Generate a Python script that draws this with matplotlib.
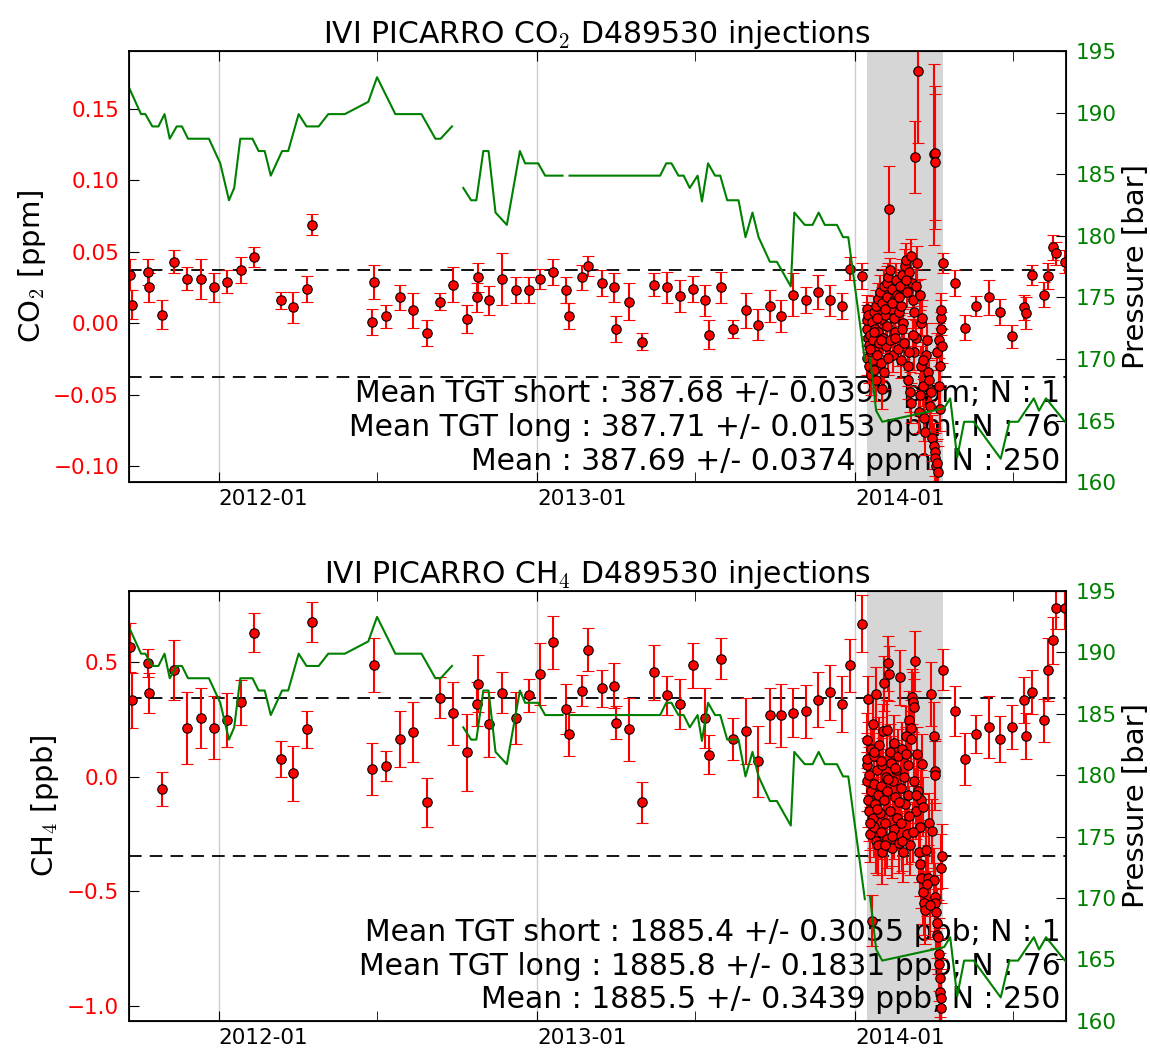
import numpy as np
import pandas as pd
import matplotlib
matplotlib.use('Agg')
import matplotlib.pyplot as plt
import matplotlib.dates as mdates

# TGT long injections (76)
long_dates = ['2011-09-21', '2011-09-24', '2011-10-12', '2011-10-13', '2011-10-28', '2011-11-11',
              '2011-11-26', '2011-12-12', '2011-12-27', '2012-01-11', '2012-01-27', '2012-02-11',
              '2012-03-13', '2012-03-27', '2012-04-12', '2012-04-17', '2012-06-27', '2012-06-25',
              '2012-07-11', '2012-07-27', '2012-08-11', '2012-08-27', '2012-09-11', '2012-09-26',
              '2012-10-12', '2012-10-25', '2012-10-24', '2012-11-07', '2012-11-22', '2012-12-07',
              '2012-12-22', '2013-01-04', '2013-01-19', '2013-02-03', '2013-02-06', '2013-02-21',
              '2013-02-28', '2013-03-16', '2013-03-30', '2013-04-01', '2013-04-16', '2013-05-01',
              '2013-05-15', '2013-05-30', '2013-06-14', '2013-06-29', '2013-07-13', '2013-07-17',
              '2013-07-31', '2013-08-14', '2013-08-28', '2013-09-11', '2013-09-25', '2013-10-08',
              '2013-10-22', '2013-11-05', '2013-11-19', '2013-12-03', '2013-12-17', '2013-12-26',
              '2014-01-09', '2014-04-12', '2014-04-26', '2014-05-07', '2014-05-20', '2014-06-03',
              '2014-06-16', '2014-06-30', '2014-07-14', '2014-07-16', '2014-07-23', '2014-08-06',
              '2014-08-10', '2014-08-16', '2014-08-19', '2014-08-30']
long_co2 = [0.034, 0.013, 0.036, 0.025, 0.006, 0.043, 0.031, 0.031, 0.025, 0.029, 0.037, 0.046,
            0.016, 0.011, 0.024, 0.069, 0.029, 0.001, 0.005, 0.018, 0.009, -0.007, 0.015, 0.027,
            0.003, 0.032, 0.018, 0.016, 0.031, 0.023, 0.023, 0.031, 0.036, 0.023, 0.005, 0.032,
            0.040, 0.028, 0.025, -0.004, 0.015, -0.013, 0.027, 0.025, 0.019, 0.024, 0.016, -0.008,
            0.025, -0.004, 0.009, -0.001, 0.012, 0.005, 0.020, 0.016, 0.022, 0.016, 0.012, 0.038,
            0.033, 0.042, 0.028, -0.003, 0.012, 0.018, 0.008, -0.009, 0.011, 0.007, 0.034, 0.020,
            0.033, 0.053, 0.049, 0.043]
long_co2_err = [0.011, 0.010, 0.009, 0.010, 0.010, 0.008, 0.008, 0.014, 0.010, 0.008, 0.009, 0.007,
                0.006, 0.011, 0.009, 0.007, 0.012, 0.009, 0.008, 0.009, 0.012, 0.009, 0.006, 0.012,
                0.010, 0.010, 0.010, 0.010, 0.018, 0.009, 0.009, 0.007, 0.009, 0.009, 0.009, 0.009,
                0.007, 0.009, 0.010, 0.009, 0.013, 0.006, 0.008, 0.011, 0.011, 0.009, 0.011, 0.010,
                0.011, 0.006, 0.012, 0.011, 0.011, 0.011, 0.015, 0.009, 0.012, 0.011, 0.009, 0.008,
                0.009, 0.007, 0.009, 0.009, 0.007, 0.012, 0.009, 0.008, 0.009, 0.011, 0.007, 0.009,
                0.009, 0.009, 0.008, 0.008]
long_ch4 = [0.566, 0.335, 0.497, 0.368, -0.054, 0.468, 0.215, 0.257, 0.215, 0.247, 0.325, 0.629,
            0.077, 0.016, 0.207, 0.678, 0.488, 0.035, 0.049, 0.166, 0.197, -0.112, 0.346, 0.278,
            0.107, 0.407, 0.318, 0.229, 0.368, 0.257, 0.357, 0.449, 0.588, 0.297, 0.188, 0.377,
            0.556, 0.387, 0.399, 0.237, 0.207, -0.112, 0.457, 0.357, 0.318, 0.488, 0.257, 0.097,
            0.516, 0.166, 0.199, 0.068, 0.269, 0.269, 0.280, 0.287, 0.338, 0.369, 0.319, 0.488,
            0.669, 0.468, 0.287, 0.078, 0.188, 0.218, 0.166, 0.218, 0.335, 0.178, 0.369, 0.247,
            0.468, 0.596, 0.737, 0.737]
long_ch4_err = [0.108, 0.120, 0.062, 0.088, 0.074, 0.130, 0.158, 0.130, 0.138, 0.118, 0.098, 0.085,
                0.079, 0.120, 0.082, 0.088, 0.118, 0.113, 0.066, 0.121, 0.132, 0.106, 0.090, 0.138,
                0.169, 0.124, 0.097, 0.141, 0.090, 0.115, 0.072, 0.135, 0.115, 0.108, 0.097, 0.068,
                0.094, 0.081, 0.097, 0.073, 0.137, 0.088, 0.119, 0.085, 0.110, 0.099, 0.133, 0.084,
                0.090, 0.093, 0.145, 0.154, 0.119, 0.137, 0.107, 0.115, 0.121, 0.122, 0.121, 0.115,
                0.124, 0.090, 0.109, 0.115, 0.084, 0.137, 0.099, 0.096, 0.100, 0.099, 0.096, 0.094,
                0.138, 0.104, 0.090, 0.090]

# injections during the grey period
clu_dates = ['2014-01-14', '2014-01-14', '2014-01-15', '2014-01-15', '2014-01-16', '2014-01-16',
             '2014-01-17', '2014-01-17', '2014-01-18', '2014-01-19', '2014-01-19', '2014-01-20',
             '2014-01-21', '2014-01-21', '2014-01-22', '2014-01-23', '2014-01-23', '2014-01-24',
             '2014-01-25', '2014-01-25', '2014-01-26', '2014-01-27', '2014-01-27', '2014-01-28',
             '2014-01-29', '2014-01-30', '2014-01-31', '2014-02-01', '2014-02-01', '2014-02-02',
             '2014-02-03', '2014-02-03', '2014-02-04', '2014-02-05', '2014-02-06', '2014-02-06',
             '2014-02-07', '2014-02-08', '2014-02-09', '2014-02-10', '2014-02-10', '2014-02-11',
             '2014-02-12', '2014-02-13', '2014-02-14', '2014-02-15', '2014-02-16', '2014-02-17',
             '2014-02-18', '2014-02-19', '2014-02-20', '2014-02-21', '2014-02-22', '2014-02-23',
             '2014-02-24', '2014-02-25', '2014-02-26', '2014-02-27', '2014-02-28', '2014-03-01',
             '2014-03-02', '2014-03-03', '2014-03-04', '2014-03-05', '2014-03-06', '2014-03-06',
             '2014-03-07', '2014-03-08', '2014-03-09', '2014-03-10', '2014-03-11', '2014-03-12',
             '2014-03-13', '2014-03-14', '2014-03-15', '2014-03-16', '2014-03-17', '2014-03-18',
             '2014-03-19', '2014-03-20', '2014-03-21', '2014-03-22', '2014-03-23', '2014-03-25',
             '2014-03-27', '2014-03-29', '2014-03-30', '2014-04-01', '2014-04-01', '2014-04-02',
             '2014-04-02', '2014-04-03', '2014-04-03', '2014-04-04', '2014-04-05', '2014-04-05',
             '2014-04-06', '2014-04-07', '2014-04-07', '2014-04-08', '2014-04-08', '2014-04-09',
             '2014-04-09', '2014-04-10', '2014-04-11',
             '2014-01-18', '2014-01-22', '2014-01-26', '2014-01-30', '2014-02-04', '2014-02-08',
             '2014-02-12', '2014-02-16', '2014-02-20', '2014-02-24', '2014-02-28', '2014-03-04',
             '2014-03-08', '2014-03-12', '2014-03-16', '2014-03-20', '2014-03-24', '2014-03-28']
clu_co2 = [0.010, -0.004, 0.002, -0.024, -0.010, 0.006, -0.015, -0.030, -0.008, -0.020, -0.036, 0.001,
           -0.026, -0.012, 0.008, -0.033, -0.018, -0.004, 0.012, -0.040, -0.022, 0.017, -0.006, -0.014,
           0.022, -0.028, 0.003, -0.046, 0.014, -0.010, 0.026, -0.034, 0.006, -0.016, 0.018, -0.002,
           0.028, 0.032, 0.080, 0.0375, -0.012, 0.010, 0.024, -0.022, 0.004, 0.016, -0.006, 0.030,
           0.020, -0.018, 0.008, 0.026, -0.026, 0.012, 0.034, 0.000, -0.014, 0.040, 0.044, 0.022,
           -0.030, -0.040, 0.036, -0.048, 0.047, -0.056, 0.028, 0.016, -0.020, 0.008, 0.116, -0.010,
           0.042, 0.176, -0.062, 0.020, 0.000, -0.030, 0.004, -0.044, -0.066, -0.076, -0.022, -0.034,
           -0.040, -0.048, -0.080, 0.118, -0.086, 0.119, -0.090, 0.113, -0.094, -0.100, -0.098, -0.020,
           -0.104, -0.012, -0.044, -0.030, -0.060, 0.004, 0.009, -0.004, -0.016,
           -0.018, -0.006, 0.004, -0.012, 0.010, -0.024, 0.014, -0.010, 0.018, -0.004, 0.030, -0.020,
           -0.008, 0.026, -0.050, -0.026, -0.012, -0.058]
clu_co2_err = [0.010, 0.012, 0.011, 0.012, 0.010, 0.009, 0.011, 0.012, 0.010, 0.012, 0.014, 0.011,
               0.012, 0.010, 0.011, 0.012, 0.011, 0.010, 0.011, 0.014, 0.012, 0.011, 0.010, 0.012,
               0.012, 0.012, 0.010, 0.014, 0.011, 0.011, 0.012, 0.012, 0.010, 0.011, 0.011, 0.010,
               0.012, 0.010, 0.030, 0.008, 0.011, 0.010, 0.012, 0.012, 0.010, 0.011, 0.010, 0.012,
               0.011, 0.012, 0.010, 0.012, 0.012, 0.010, 0.011, 0.010, 0.011, 0.012, 0.012, 0.011,
               0.014, 0.013, 0.011, 0.014, 0.012, 0.014, 0.011, 0.011, 0.013, 0.011, 0.025, 0.012,
               0.012, 0.050, 0.015, 0.011, 0.012, 0.014, 0.012, 0.014, 0.016, 0.016, 0.013, 0.014,
               0.014, 0.015, 0.016, 0.063, 0.016, 0.047, 0.017, 0.047, 0.017, 0.018, 0.017, 0.013,
               0.018, 0.012, 0.014, 0.013, 0.015, 0.012, 0.012, 0.012, 0.012,
               0.012, 0.011, 0.010, 0.012, 0.011, 0.012, 0.011, 0.010, 0.012, 0.011, 0.012, 0.013,
               0.011, 0.012, 0.015, 0.013, 0.012, 0.016]
clu_ch4 = [0.160, 0.050, -0.020, 0.080, -0.100, 0.340, -0.150, 0.010, -0.250, -0.060, 0.120, -0.628,
           0.233, -0.180, -0.030, -0.220, 0.090, -0.120, 0.361, -0.280, 0.030, -0.080, -0.300, 0.140,
           -0.160, -0.040, -0.240, 0.050, -0.330, 0.200, -0.100, 0.409, -0.200, 0.000, 0.206, -0.270,
           -0.060, 0.497, 0.450, 0.110, -0.150, 0.060, -0.310, -0.020, 0.150, -0.230, -0.090, 0.030,
           -0.180, 0.090, -0.290, 0.435, -0.050, -0.200, 0.120, -0.330, 0.000, -0.120, 0.180, -0.250,
           0.050, -0.080, 0.247, -0.300, 0.215, 0.166, 0.350, 0.328, 0.306, -0.020, 0.507, -0.150,
           0.100, -0.060, -0.330, -0.220, -0.100, -0.444, 0.056, -0.503, -0.550, -0.580, -0.320, -0.440,
           -0.200, 0.361, -0.238, 0.177, -0.451, 0.026, -0.525, 0.007, -0.550, -0.590, -0.640, -0.690,
           -0.700, -0.775, -0.820, -0.880, -0.940, -0.965, -1.010, -0.400, -0.345,
           -0.200, 0.110, -0.140, 0.070, -0.300, -0.010, -0.260, 0.040, -0.110, -0.280, 0.100, -0.170,
           -0.240, -0.080, -0.380, -0.130, -0.470, -0.560]
clu_ch4_err = [0.12, 0.12, 0.13, 0.11, 0.12, 0.10, 0.13, 0.12, 0.12, 0.13, 0.12, 0.11,
               0.12, 0.13, 0.12, 0.13, 0.12, 0.12, 0.12, 0.14, 0.12, 0.12, 0.13, 0.12,
               0.12, 0.13, 0.12, 0.12, 0.14, 0.12, 0.13, 0.12, 0.12, 0.12, 0.13, 0.13,
               0.12, 0.12, 0.12, 0.12, 0.13, 0.12, 0.13, 0.12, 0.12, 0.13, 0.12, 0.12,
               0.13, 0.12, 0.13, 0.12, 0.12, 0.12, 0.12, 0.13, 0.12, 0.12, 0.13, 0.13,
               0.12, 0.12, 0.13, 0.13, 0.12, 0.12, 0.12, 0.13, 0.12, 0.12, 0.13, 0.12,
               0.12, 0.14, 0.13, 0.12, 0.13, 0.13, 0.13, 0.14, 0.14, 0.15, 0.13, 0.14,
               0.13, 0.14, 0.14, 0.15, 0.14, 0.14, 0.15, 0.15, 0.15, 0.16, 0.15, 0.15,
               0.16, 0.16, 0.16, 0.17, 0.17, 0.17, 0.17, 0.15, 0.14,
               0.12, 0.12, 0.13, 0.12, 0.13, 0.12, 0.13, 0.12, 0.12, 0.13, 0.12, 0.13,
               0.13, 0.12, 0.14, 0.13, 0.14, 0.15]

# cylinder pressure (None = no reading)
p_dates = ['2011-09-20', '2011-10-04', '2011-10-09', '2011-10-17', '2011-10-24', '2011-10-31',
           '2011-11-06', '2011-11-14', '2011-11-20', '2011-11-27', '2011-12-21', '2012-01-03',
           '2012-01-13', '2012-01-19', '2012-01-26', '2012-02-09', '2012-02-16', '2012-02-23',
           '2012-03-01', '2012-03-14', '2012-03-21', '2012-04-02', '2012-04-11', '2012-04-25',
           '2012-05-06', '2012-05-25', '2012-06-21', '2012-07-01', '2012-07-22', '2012-08-21',
           '2012-09-06', '2012-09-12', '2012-09-25', '2012-10-01', '2012-10-08', '2012-10-17',
           '2012-10-23', '2012-10-31', '2012-11-06', '2012-11-14', '2012-11-27', '2012-12-12',
           '2012-12-18', '2013-01-02', '2013-01-10', '2013-01-30', '2013-02-03', '2013-02-07',
           '2013-05-22', '2013-05-29', '2013-06-04', '2013-06-12', '2013-06-18', '2013-06-25',
           '2013-07-04', '2013-07-09', '2013-07-16', '2013-07-24', '2013-07-30', '2013-08-07',
           '2013-08-20', '2013-08-28', '2013-09-05', '2013-09-12', '2013-09-25', '2013-10-03',
           '2013-10-19', '2013-10-23', '2013-11-04', '2013-11-13', '2013-11-20', '2013-11-27',
           '2013-12-11', '2013-12-18', '2013-12-24', '2014-01-12', '2014-01-15', '2014-01-18',
           '2014-01-25', '2014-02-01', '2014-04-13', '2014-04-20', '2014-04-28', '2014-05-06',
           '2014-05-17', '2014-06-17', '2014-06-27', '2014-07-07', '2014-07-25', '2014-07-31',
           '2014-08-08', '2014-08-31']
pressure = [192.1, 189.9, 189.9, 188.9, 188.9, 189.9,
            187.9, 188.9, 188.9, 187.9, 187.9, 185.9,
            182.9, 183.9, 187.9, 187.9, 186.9, 186.9,
            184.9, 186.9, 186.9, 189.9, 188.9, 188.9,
            189.9, 189.9, 190.9, 192.9, 189.9, 189.9,
            187.9, 187.9, 188.9, None, 183.9, 182.9,
            182.9, 186.9, 186.9, 181.9, 180.9, 186.9,
            185.9, 185.9, 184.9, 184.9, None, 184.9,
            184.9, 185.9, 185.9, 184.9, 184.9, 183.9,
            184.9, 182.8, 185.9, 184.9, 184.9, 182.9,
            182.9, 179.9, 181.9, 179.9, 177.9, 177.9,
            175.9, 181.9, 180.9, 180.9, 181.9, 180.9,
            180.9, 179.9, 179.9, 169.9, None, 170.1,
            165.8, 164.9, 166.0, 166.8, 162.0, 164.9,
            164.9, 161.9, 164.9, 164.9, 166.8, 165.8,
            166.8, 164.8]

mean_std = [0.0374, 0.3439]
titles = ['IVI PICARRO CO$_2$ D489530 injections', 'IVI PICARRO CH$_4$ D489530 injections']
ylabels = ['CO$_2$ [ppm]', 'CH$_4$ [ppb]']
stats = [['Mean TGT short : 387.68 +/- 0.0399 ppm; N : 1',
          'Mean TGT long : 387.71 +/- 0.0153 ppm; N : 76',
          'Mean : 387.69 +/- 0.0374 ppm; N : 250'],
         ['Mean TGT short : 1885.4 +/- 0.3055 ppb; N : 1',
          'Mean TGT long : 1885.8 +/- 0.1831 ppb; N : 76',
          'Mean : 1885.5 +/- 0.3439 ppb; N : 250']]


def minus_fmt(fmt):
    return matplotlib.ticker.FuncFormatter(lambda v, pos: (fmt % v).replace('-', '\u2212'))


def main():
    plt.rcParams['font.family'] = 'DejaVu Sans'
    plt.rcParams['mathtext.fontset'] = 'cm'
    plt.rcParams['xtick.direction'] = 'in'
    plt.rcParams['ytick.direction'] = 'in'

    dates = pd.to_datetime(long_dates + clu_dates)
    co2 = np.array(long_co2 + clu_co2)
    co2_err = np.array(long_co2_err + clu_co2_err)
    ch4 = np.array(long_ch4 + clu_ch4)
    ch4_err = np.array(long_ch4_err + clu_ch4_err)
    pdates = pd.to_datetime(p_dates)
    pres = np.array([np.nan if p is None else p for p in pressure])

    fig = plt.figure(figsize=(11.5, 10.48), dpi=100)
    boxes = [[0.112, 0.540, 0.815, 0.411], [0.112, 0.026, 0.815, 0.410]]
    ylims = [(-0.111, 0.190), (-1.066, 0.812)]
    yticks = [[-0.10, -0.05, 0.0, 0.05, 0.10, 0.15], [-1.0, -0.5, 0.0, 0.5]]
    yfmt = ['%.2f', '%.1f']
    vals = [(co2, co2_err), (ch4, ch4_err)]

    for i in range(2):
        ax = fig.add_axes(boxes[i])
        ax.axvspan(pd.Timestamp('2014-01-15'), pd.Timestamp('2014-04-12'),
                   color='#d6d6d6', lw=0, zorder=0)
        ax.axhline(mean_std[i], color='k', lw=1.3, dashes=(7, 4.5), zorder=1.5)
        ax.axhline(-mean_std[i], color='k', lw=1.3, dashes=(7, 4.5), zorder=1.5)
        ax.errorbar(dates, vals[i][0], yerr=vals[i][1], fmt='o', color='r', ecolor='r',
                    mec='k', mew=0.8, ms=6.8, elinewidth=1.5, capsize=4, capthick=1.3, zorder=2)
        ax.text(0.994, 0.015, '\n'.join(stats[i]), transform=ax.transAxes, ha='right',
                va='bottom', fontsize=21.5, multialignment='right', zorder=1)

        ax.set_xlim(pd.Timestamp('2011-09-20'), pd.Timestamp('2014-08-31'))
        ax.set_ylim(ylims[i])
        ax.set_yticks(yticks[i])
        ax.yaxis.set_major_formatter(minus_fmt(yfmt[i]))
        ax.xaxis.set_major_locator(mdates.YearLocator())
        ax.xaxis.set_minor_locator(mdates.MonthLocator(bymonth=7))
        ax.xaxis.set_major_formatter(mdates.DateFormatter('%Y-%m'))
        ax.xaxis.grid(True, which='major', color='#cccccc', lw=1, ls='-')
        ax.set_axisbelow(True)
        ax.tick_params(axis='x', which='both', labelsize=15.5, length=7, top=True, pad=5)
        ax.tick_params(axis='y', labelsize=15.5, labelcolor='r', length=7, pad=7)
        for lab in ax.get_xticklabels():
            lab.set_ha('left')
        ax.set_ylabel(ylabels[i], fontsize=21)
        ax.set_title(titles[i], fontsize=21.5)
        for s in ax.spines.values():
            s.set_linewidth(1.3)

        ax2 = ax.twinx()
        ax2.plot(pdates, pres, color='g', lw=1.5)
        ax2.set_ylim(160, 195)
        ax2.set_yticks([160, 165, 170, 175, 180, 185, 190, 195])
        ax2.tick_params(axis='y', labelsize=15.5, labelcolor='g', length=7, pad=7)
        ax2.set_ylabel('Pressure [bar]', fontsize=21)

    fig.savefig('out.png', dpi=100, facecolor='white')


if __name__ == '__main__':
    main()
